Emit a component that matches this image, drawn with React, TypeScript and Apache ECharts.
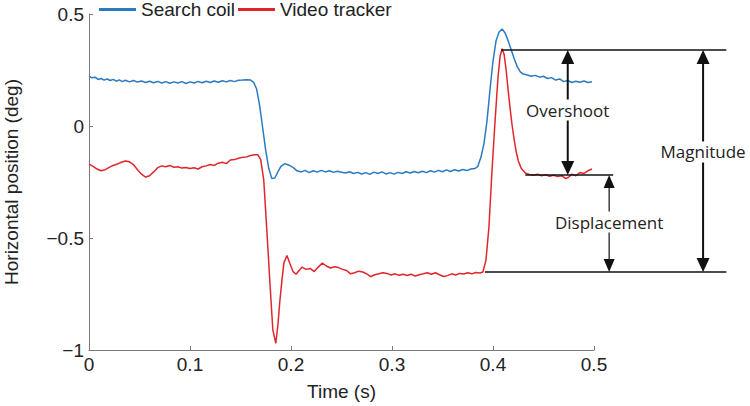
import React, { useEffect, useRef } from "react";
import * as echarts from "echarts";

// Time (s), horizontal position (deg)
const searchCoil: [number, number][] = [
  [0.000, 0.222], [0.003, 0.215], [0.006, 0.218], [0.009, 0.208], [0.012, 0.212], [0.015, 0.205],
  [0.018, 0.210], [0.021, 0.203], [0.024, 0.208], [0.027, 0.200], [0.030, 0.206], [0.033, 0.198],
  [0.036, 0.204], [0.040, 0.197], [0.044, 0.203], [0.048, 0.196], [0.052, 0.201], [0.056, 0.194],
  [0.060, 0.200], [0.064, 0.193], [0.068, 0.199], [0.072, 0.192], [0.076, 0.198], [0.080, 0.191],
  [0.084, 0.197], [0.088, 0.192], [0.092, 0.198], [0.096, 0.190], [0.100, 0.197], [0.104, 0.192],
  [0.108, 0.199], [0.112, 0.193], [0.116, 0.200], [0.120, 0.194], [0.124, 0.201], [0.128, 0.195],
  [0.132, 0.202], [0.136, 0.197], [0.140, 0.203], [0.144, 0.198], [0.148, 0.204], [0.152, 0.205],
  [0.156, 0.207], [0.160, 0.205], [0.163, 0.195], [0.166, 0.165], [0.169, 0.090], [0.172, -0.010],
  [0.175, -0.110], [0.178, -0.190], [0.181, -0.235], [0.184, -0.232], [0.187, -0.205], [0.190, -0.180],
  [0.194, -0.168], [0.198, -0.175], [0.202, -0.185], [0.206, -0.200], [0.210, -0.205], [0.214, -0.198],
  [0.218, -0.208], [0.222, -0.200], [0.226, -0.206], [0.230, -0.198], [0.234, -0.205], [0.238, -0.200],
  [0.242, -0.207], [0.246, -0.202], [0.250, -0.206], [0.254, -0.210], [0.258, -0.204], [0.262, -0.212],
  [0.266, -0.207], [0.270, -0.214], [0.274, -0.208], [0.278, -0.216], [0.282, -0.206], [0.286, -0.212],
  [0.290, -0.205], [0.294, -0.214], [0.298, -0.208], [0.302, -0.215], [0.306, -0.207], [0.310, -0.212],
  [0.314, -0.204], [0.318, -0.210], [0.322, -0.203], [0.326, -0.209], [0.330, -0.202], [0.334, -0.208],
  [0.338, -0.200], [0.342, -0.206], [0.346, -0.198], [0.350, -0.204], [0.354, -0.196], [0.358, -0.203],
  [0.362, -0.195], [0.366, -0.201], [0.370, -0.194], [0.374, -0.199], [0.378, -0.192], [0.382, -0.190],
  [0.385, -0.180], [0.388, -0.140], [0.391, -0.080], [0.394, 0.020], [0.397, 0.160], [0.400, 0.290],
  [0.403, 0.380], [0.406, 0.420], [0.409, 0.433], [0.412, 0.415], [0.415, 0.380], [0.418, 0.340],
  [0.421, 0.300], [0.424, 0.265], [0.427, 0.242], [0.430, 0.232], [0.434, 0.228], [0.438, 0.222],
  [0.442, 0.226], [0.446, 0.218], [0.450, 0.222], [0.454, 0.212], [0.458, 0.216], [0.462, 0.205],
  [0.466, 0.210], [0.470, 0.198], [0.474, 0.203], [0.478, 0.194], [0.482, 0.200], [0.486, 0.195],
  [0.490, 0.201], [0.494, 0.194], [0.498, 0.198],
];

const videoTracker: [number, number][] = [
  [0.000, -0.170], [0.004, -0.180], [0.008, -0.192], [0.012, -0.200], [0.016, -0.195], [0.020, -0.185],
  [0.024, -0.176], [0.028, -0.170], [0.032, -0.162], [0.036, -0.156], [0.040, -0.160], [0.044, -0.172],
  [0.048, -0.195], [0.052, -0.215], [0.056, -0.228], [0.060, -0.222], [0.064, -0.205], [0.068, -0.186],
  [0.072, -0.178], [0.076, -0.182], [0.080, -0.176], [0.084, -0.184], [0.088, -0.182], [0.092, -0.188],
  [0.096, -0.185], [0.100, -0.190], [0.104, -0.186], [0.108, -0.192], [0.112, -0.182], [0.116, -0.178],
  [0.120, -0.172], [0.124, -0.176], [0.128, -0.166], [0.132, -0.162], [0.136, -0.168], [0.140, -0.152],
  [0.144, -0.150], [0.148, -0.144], [0.152, -0.140], [0.156, -0.138], [0.160, -0.132], [0.164, -0.128],
  [0.167, -0.128], [0.170, -0.150], [0.173, -0.240], [0.176, -0.460], [0.179, -0.690], [0.182, -0.910],
  [0.185, -0.970], [0.187, -0.890], [0.189, -0.780], [0.191, -0.690], [0.193, -0.610], [0.196, -0.578],
  [0.199, -0.615], [0.202, -0.650], [0.205, -0.662], [0.208, -0.645], [0.211, -0.630], [0.215, -0.640],
  [0.219, -0.636], [0.223, -0.650], [0.227, -0.630], [0.231, -0.612], [0.235, -0.625], [0.239, -0.634],
  [0.243, -0.628], [0.247, -0.632], [0.251, -0.640], [0.255, -0.645], [0.259, -0.660], [0.263, -0.655],
  [0.267, -0.648], [0.271, -0.652], [0.275, -0.660], [0.279, -0.672], [0.283, -0.664], [0.287, -0.660],
  [0.291, -0.655], [0.295, -0.658], [0.299, -0.665], [0.303, -0.660], [0.307, -0.666], [0.311, -0.662],
  [0.315, -0.667], [0.319, -0.662], [0.323, -0.670], [0.327, -0.664], [0.331, -0.660], [0.335, -0.655],
  [0.339, -0.662], [0.343, -0.655], [0.347, -0.664], [0.351, -0.672], [0.355, -0.668], [0.359, -0.660],
  [0.363, -0.665], [0.367, -0.658], [0.371, -0.661], [0.375, -0.655], [0.379, -0.660], [0.383, -0.654],
  [0.387, -0.656], [0.390, -0.652], [0.393, -0.600], [0.396, -0.450], [0.399, -0.200], [0.402, 0.020],
  [0.405, 0.220], [0.407, 0.310], [0.409, 0.345], [0.411, 0.320], [0.413, 0.250], [0.415, 0.160],
  [0.417, 0.075], [0.419, 0.000], [0.421, -0.062], [0.423, -0.115], [0.425, -0.155], [0.428, -0.190],
  [0.432, -0.210], [0.436, -0.216], [0.440, -0.220], [0.444, -0.215], [0.448, -0.222], [0.452, -0.218],
  [0.456, -0.224], [0.460, -0.220], [0.464, -0.226], [0.468, -0.222], [0.472, -0.235], [0.475, -0.228],
  [0.478, -0.215], [0.482, -0.222], [0.486, -0.208], [0.490, -0.212], [0.494, -0.200], [0.498, -0.192],
];

const seriesNames = ["Search coil", "Video tracker"];

// Annotation levels (deg) and positions (s)
const peakLevel = 0.339;
const settleLevel = -0.219;
const baseLevel = -0.652;
const peakLine = [0.408, 0.631];
const settleLine = [0.432, 0.519];
const baseLine = [0.392, 0.631];
const overshootT = 0.474;
const displacementT = 0.515;
const magnitudeT = 0.608;
const overshootLabelV = 0.071;
const displacementLabelV = -0.429;
const magnitudeLabelV = -0.116;

const FONT = "'Liberation Sans', Arial, Helvetica, sans-serif";
const ANNO_FONT = "'Open Sans', 'Noto Sans', sans-serif";
const BLUE = "#2b7bc0";
const RED = "#e0262b";
const AXIS = "#7a7a7a";
const TEXT = "#222";
const FS = 19;

const fmt = (v: number) => {
  const s = String(Math.round(v * 10) / 10);
  return s.replace("-", "\u2212");
};

export default function App() {
  const ref = useRef<HTMLDivElement>(null);
  useEffect(() => {
    if (!ref.current) return;
    const chart = echarts.init(ref.current, undefined, { renderer: "svg" });
    chart.setOption({
      animation: false,
      backgroundColor: "#fff",
      textStyle: { fontFamily: FONT },
      grid: {
        left: 89,
        right: 156,
        top: 14,
        bottom: 56,
        containLabel: false,
        outerBoundsMode: "none",
      },
      legend: {
        data: seriesNames,
        left: 99,
        top: 0,
        padding: 0,
        itemGap: 3,
        itemWidth: 37,
        itemHeight: 3,
        icon: "rect",
        textStyle: { fontSize: FS, color: TEXT, fontFamily: FONT },
      },
      xAxis: {
        type: "value",
        min: 0,
        max: 0.5,
        interval: 0.1,
        name: "Time (s)",
        nameLocation: "middle",
        nameGap: 32,
        nameTextStyle: { fontSize: FS, color: TEXT, fontFamily: FONT },
        axisLine: { show: true, onZero: false, lineStyle: { color: AXIS, width: 1 } },
        axisTick: { show: true, inside: true, length: 4, lineStyle: { color: AXIS } },
        axisLabel: { fontSize: FS, color: TEXT, margin: 5, formatter: fmt },
        splitLine: { show: false },
      },
      yAxis: {
        type: "value",
        min: -1,
        max: 0.5,
        interval: 0.5,
        name: "Horizontal position (deg)",
        nameLocation: "middle",
        nameRotate: 90,
        nameGap: 68,
        nameTextStyle: { fontSize: FS, color: TEXT, fontFamily: FONT },
        axisLine: { show: true, onZero: false, lineStyle: { color: AXIS, width: 1 } },
        axisTick: { show: true, inside: true, length: 4, lineStyle: { color: AXIS } },
        axisLabel: { fontSize: FS, color: TEXT, margin: 5, formatter: fmt },
        splitLine: { show: false },
      },
      series: [
        {
          name: seriesNames[0],
          type: "line",
          data: searchCoil,
          showSymbol: false,
          symbol: "none",
          lineStyle: { color: BLUE, width: 1.5 },
          itemStyle: { color: BLUE },
        },
        {
          name: seriesNames[1],
          type: "line",
          data: videoTracker,
          showSymbol: false,
          symbol: "none",
          lineStyle: { color: RED, width: 1.5 },
          itemStyle: { color: RED },
        },
      ],
    });

    const px = (t: number, v: number) =>
      chart.convertToPixel({ gridIndex: 0 }, [t, v]) as number[];

    const hLine = (range: number[], level: number) => {
      const [x1, y] = px(range[0], level);
      const [x2] = px(range[1], level);
      return {
        type: "line",
        z: 100,
        shape: { x1, y1: y, x2, y2: y },
        style: { stroke: "#111", lineWidth: 1.5 },
      };
    };

    const dArrow = (t: number, vTop: number, vBot: number, lw: number, w: number, h: number) => {
      const [x, yT] = px(t, vTop);
      const [, yB] = px(t, vBot);
      return [
        {
          type: "line",
          z: 100,
          shape: { x1: x, y1: yT + h - 1, x2: x, y2: yB - h + 1 },
          style: { stroke: "#111", lineWidth: lw },
        },
        {
          type: "polygon",
          z: 101,
          shape: { points: [[x, yT], [x - w / 2, yT + h], [x + w / 2, yT + h]] },
          style: { fill: "#111" },
        },
        {
          type: "polygon",
          z: 101,
          shape: { points: [[x, yB], [x - w / 2, yB - h], [x + w / 2, yB - h]] },
          style: { fill: "#111" },
        },
      ];
    };

    const label = (t: number, v: number, text: string) => {
      const [x, y] = px(t, v);
      return {
        type: "text",
        z: 110,
        x,
        y,
        style: {
          text,
          x: 0,
          y: 0,
          align: "center",
          verticalAlign: "middle",
          fill: TEXT,
          font: `17px ${ANNO_FONT}`,
          backgroundColor: "#fff",
          padding: [2, 1],
        },
      };
    };

    chart.setOption({
      graphic: [
        hLine(peakLine, peakLevel),
        hLine(settleLine, settleLevel),
        hLine(baseLine, baseLevel),
        ...dArrow(overshootT, peakLevel, settleLevel, 2, 13, 14),
        ...dArrow(displacementT, settleLevel, baseLevel, 1.2, 11, 13),
        ...dArrow(magnitudeT, peakLevel, baseLevel, 2, 13, 14),
        label(overshootT, overshootLabelV, "Overshoot"),
        label(displacementT, displacementLabelV, "Displacement"),
        label(magnitudeT, magnitudeLabelV, "Magnitude"),
      ],
    });

    return () => chart.dispose();
  }, []);
  return (
    <div
      ref={ref}
      style={{ position: "fixed", left: 0, top: 0, width: 750, height: 406 }}
    />
  );
}
